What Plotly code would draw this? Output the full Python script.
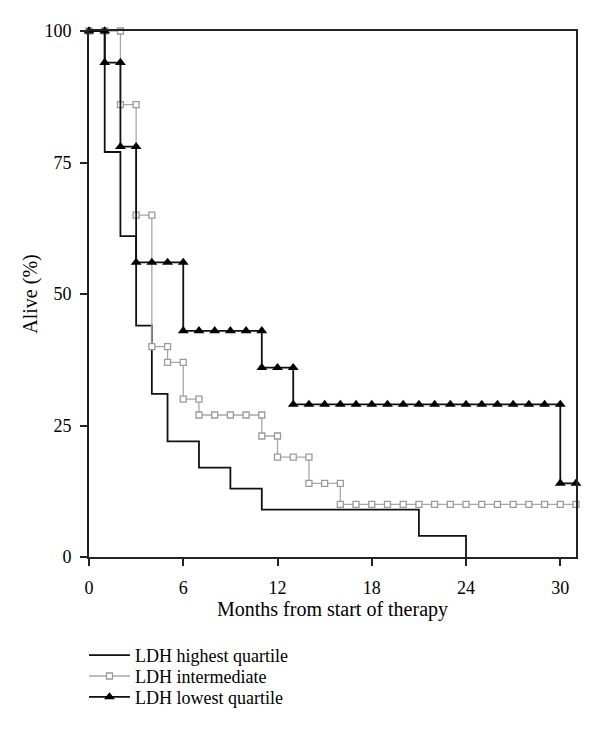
import plotly.graph_objects as go

# LDH highest quartile (step curve, no markers)
hi_months = [0, 1, 2, 3, 4, 5, 7, 9, 11, 21, 24]
hi_alive = [100, 77, 61, 44, 31, 22, 17, 13, 9, 4, 0]

# LDH intermediate (markers at each month, duplicated at drops)
mid_months = [0, 1, 2, 2, 3, 3, 4, 4, 5, 5, 6, 6, 7, 7, 8, 9, 10, 11, 11, 12, 12, 13, 14, 14, 15, 16, 16,
              17, 18, 19, 20, 21, 22, 23, 24, 25, 26, 27, 28, 29, 30, 31]
mid_alive = [100, 100, 100, 86, 86, 65, 65, 40, 40, 37, 37, 30, 30, 27, 27, 27, 27, 27, 23, 23, 19, 19, 19, 14, 14, 14, 10,
             10, 10, 10, 10, 10, 10, 10, 10, 10, 10, 10, 10, 10, 10, 10]

# LDH lowest quartile
lo_months = [0, 1, 1, 2, 2, 3, 3, 4, 5, 6, 6, 7, 8, 9, 10, 11, 11, 12, 13, 13,
             14, 15, 16, 17, 18, 19, 20, 21, 22, 23, 24, 25, 26, 27, 28, 29, 30, 30, 31]
lo_alive = [100, 100, 94, 94, 78, 78, 56, 56, 56, 56, 43, 43, 43, 43, 43, 43, 36, 36, 36, 29,
            29, 29, 29, 29, 29, 29, 29, 29, 29, 29, 29, 29, 29, 29, 29, 29, 29, 14, 14]

x_ticks = [0, 6, 12, 18, 24, 30]
y_ticks = [0, 25, 50, 75, 100]

FONT = "Liberation Serif"
fig = go.Figure()
fig.add_trace(go.Scatter(x=hi_months, y=hi_alive, mode="lines", line_shape="hv",
                         line=dict(color="#111111", width=1.8), name="LDH highest quartile",
                         legend="legend", cliponaxis=False))
fig.add_trace(go.Scatter(x=mid_months, y=mid_alive, mode="lines+markers", line_shape="hv",
                         line=dict(color="#a8a8a8", width=1.3),
                         marker=dict(symbol="square", size=6, color="white",
                                     line=dict(color="#9a9a9a", width=1.3)),
                         name="LDH intermediate", legend="legend2", cliponaxis=False))
fig.add_trace(go.Scatter(x=lo_months, y=lo_alive, mode="lines+markers", line_shape="hv",
                         line=dict(color="#111111", width=1.8),
                         marker=dict(symbol="triangle-up", size=9.5, color="black"),
                         name="LDH lowest quartile", legend="legend3", cliponaxis=False))

leg_common = dict(x=-0.0103, xanchor="left", yanchor="middle", itemwidth=41,
                  font=dict(family=FONT, size=18), bgcolor="rgba(0,0,0,0)")

# page body has an 8px margin: plot area targeted at x 89..576, y 31..560 in the window
fig.update_layout(
    width=592, height=720,
    margin=dict(l=81, r=24, t=23, b=168),
    plot_bgcolor="white", paper_bgcolor="white",
    font=dict(family=FONT, size=18, color="black"),
    showlegend=True,
    legend=dict(y=-0.1871, **leg_common),
    legend2=dict(y=-0.2268, **leg_common),
    legend3=dict(y=-0.2665, **leg_common),
    xaxis=dict(range=[0, 31], tickvals=x_ticks, ticks="outside", ticklen=7, tickwidth=1.5,
               tickcolor="#222222",
               showline=True, linecolor="#222222", linewidth=1.8, mirror=True,
               showgrid=False, zeroline=False, tickfont=dict(size=18), ticklabelstandoff=6,
               title=dict(text="Months from start of therapy", font=dict(size=20), standoff=5)),
    yaxis=dict(range=[0, 100], tickvals=y_ticks, ticks="outside", ticklen=7, tickwidth=1.5,
               tickcolor="#222222",
               showline=True, linecolor="#222222", linewidth=1.8, mirror=True,
               showgrid=False, zeroline=False, tickfont=dict(size=18), ticklabelstandoff=5,
               title=dict(text="Alive (%)", font=dict(size=20), standoff=2)),
)
fig.write_html("out.html")
